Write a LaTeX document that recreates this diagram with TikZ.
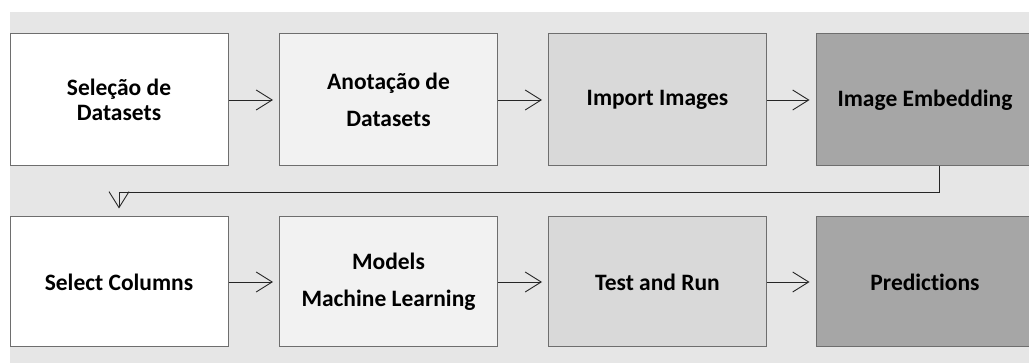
\documentclass[tikz,border=0pt]{standalone}
\usepackage{fontspec}
\setmainfont{Carlito}[Ligatures=NoCommon]
\usetikzlibrary{arrows.meta}
\definecolor{panel}{HTML}{E6E6E6}
\definecolor{edge}{HTML}{6E6E6E}
\definecolor{toneA}{HTML}{FFFFFF}
\definecolor{toneB}{HTML}{F2F2F2}
\definecolor{toneC}{HTML}{D9D9D9}
\definecolor{toneD}{HTML}{A6A6A6}
\tikzset{
  stage/.style={draw=edge, line width=1pt, minimum width=218pt, inner sep=0pt,
    align=center, font=\fontsize{23.5}{25}\selectfont\bfseries},
  flow/.style={line width=0.9pt, draw=black!85,
    -{Straight Barb[length=16pt,width=20pt,line width=0.9pt]}},
}
\begin{document}
\begin{tikzpicture}[x=1pt,y=1pt]
  \clip (0,0) rectangle (1029,-363);
  \fill[panel] (10,-12) rectangle (1029,-363);
  % first row
  \node[stage, fill=toneA, minimum height=132pt] (b1) at (119,-100) {Seleção de\\Datasets};
  \node[stage, fill=toneB, minimum height=132pt] (b2) at (388.5,-100)
    {Anotação de\\[12pt]Datasets};
  \node[stage, fill=toneC, minimum height=132pt] (b3) at (657.5,-100) {Import Images};
  \node[stage, fill=toneD, minimum height=132pt] (b4) at (925,-100) {Image Embedding};
  % second row
  \node[stage, fill=toneA, minimum height=130pt] (b5) at (119,-282) {Select Columns};
  \node[stage, fill=toneB, minimum height=130pt] (b6) at (388.5,-282)
    {Models\\[12pt]Machine Learning};
  \node[stage, fill=toneC, minimum height=130pt] (b7) at (657.5,-282) {Test and Run};
  \node[stage, fill=toneD, minimum height=130pt] (b8) at (925,-282) {Predictions};
  % connectors
  \draw[flow, shorten >=6pt] (b1) -- (b2);
  \draw[flow, shorten >=6pt] (b2) -- (b3);
  \draw[flow, shorten >=6pt] (b3) -- (b4);
  \draw[flow, shorten >=6pt] (b5) -- (b6);
  \draw[flow, shorten >=6pt] (b6) -- (b7);
  \draw[flow, shorten >=6pt] (b7) -- (b8);
  \coordinate (turn) at ([xshift=14pt,yshift=-26pt]b4.south);
  \draw[flow, shorten >=8pt] ([xshift=14pt]b4.south) -- (turn) -| (b5.north);
\end{tikzpicture}
\end{document}
